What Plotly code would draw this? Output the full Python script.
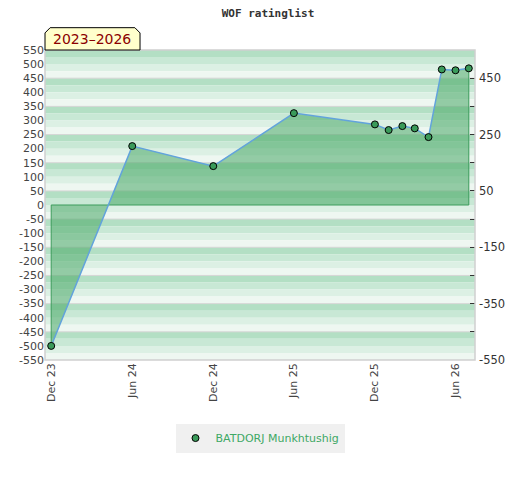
import plotly.graph_objects as go

# rating history (monthly snapshots)
dates = ["2023-12-01", "2024-06-01", "2024-12-01", "2025-06-01", "2025-12-01",
         "2026-01-01", "2026-02-01", "2026-03-01", "2026-04-01", "2026-05-01",
         "2026-06-01", "2026-07-01"]
rating = [-500, 209, 138, 326, 286, 266, 280, 272, 241, 481, 478, 485]
player = "BATDORJ Munkhtushig"
period = "2023\u20132026"

y_min, y_max = -550, 550
left_ticks = list(range(y_min, y_max + 1, 50))
right_ticks = list(range(y_min, y_max + 1, 100))
x_range = ["2023-11-17", "2026-07-15"]

green = "#3a9a5a"
stripe_cols = ["#b3dfc4", "#c8e8d5", "#dcf0e4", "#eef7f1"]

fig = go.Figure()

# fill between rating line and zero
fig.add_trace(go.Scatter(
    x=dates, y=rating, mode="lines", fill="tozeroy",
    fillcolor="rgba(72,168,102,0.55)", line=dict(width=0),
    showlegend=False, hoverinfo="skip",
))
# outline of the filled area (left edge, zero line, right edge)
fig.add_trace(go.Scatter(
    x=[dates[0], dates[0], dates[-1], dates[-1]],
    y=[rating[0], 0, 0, rating[-1]],
    mode="lines", line=dict(color="#3d9c5c", width=1),
    showlegend=False, hoverinfo="skip",
))
fig.add_trace(go.Scatter(
    x=dates, y=rating, mode="lines",
    line=dict(color="#62a3dc", width=1.5),
    showlegend=False, hoverinfo="skip",
))
fig.add_trace(go.Scatter(
    x=dates, y=rating, mode="markers", name=player, yaxis="y2",
    marker=dict(size=7, color=green, line=dict(color="black", width=1)),
))

# striped background: 25-unit bands, grey line every 100
shapes = []
band = 0
v = y_max
while v > y_min:
    shapes.append(dict(type="rect", xref="paper", yref="y", layer="below",
                       x0=0, x1=1, y0=v - 25, y1=v,
                       fillcolor=stripe_cols[band % 4], line=dict(width=0)))
    band += 1
    v -= 25
for g in range(y_min + 100, y_max, 100):
    shapes.append(dict(type="line", xref="paper", yref="y", layer="below",
                       x0=0, x1=1, y0=g, y1=g,
                       line=dict(color="#d6d6d6", width=1)))
shapes.append(dict(type="rect", xref="paper", yref="paper", x0=0, x1=1, y0=0, y1=1,
                   line=dict(color="#d0d0d0", width=1.5)))
# period badge with clipped top corners
shapes.append(dict(type="path", xref="paper", yref="paper",
                   path="M 0,1 L 0,1.055 L 0.012,1.072 L 0.209,1.072 L 0.221,1.055 L 0.221,1 Z",
                   fillcolor="#ffffcc", line=dict(color="black", width=1)))

# page body adds an 8px offset, margins compensate for it
fig.update_layout(
    width=520, height=480,
    margin=dict(l=37, r=53, t=42, b=128),
    paper_bgcolor="white", plot_bgcolor="white",
    font=dict(family="DejaVu Sans", size=11, color="#444"),
    title=dict(text="WOF ratinglist", x=0.5, xanchor="center", y=0.998, yanchor="top",
               font=dict(family="DejaVu Sans Mono", size=11, color="#333", weight="bold")),
    shapes=shapes,
    annotations=[dict(text=period, xref="paper", yref="paper", x=0.11, y=1.036,
                      showarrow=False, xanchor="center", yanchor="middle",
                      font=dict(family="DejaVu Sans", size=14, color="#8b0000"))],
    xaxis=dict(type="date", range=x_range, tick0="2023-12-01", dtick="M6",
               tickformat="%b %y", tickangle=-90, showgrid=False, zeroline=False,
               showline=False, ticks="", automargin=False,
               tickfont=dict(size=11, color="#444")),
    yaxis=dict(range=[y_min, y_max], tickmode="array", tickvals=left_ticks,
               ticktext=[str(t) for t in left_ticks], showgrid=False,
               zeroline=False, showline=False, ticks="", automargin=False,
               tickfont=dict(size=11, color="#444")),
    yaxis2=dict(range=[y_min, y_max], overlaying="y", side="right",
                tickmode="array", tickvals=right_ticks,
                ticktext=[str(t) if (t - y_min) % 200 == 0 else "" for t in right_ticks],
                showgrid=False, zeroline=False, ticklabelstandoff=3,
                ticks="inside", ticklen=5, tickcolor="#333", automargin=False,
                tickfont=dict(size=11.5, color="#333")),
    legend=dict(orientation="h", x=0.5, xanchor="center", y=-0.205, yanchor="top",
                itemwidth=30, bgcolor="#f0f0f0", font=dict(size=11, color="#40a865")),
)

fig.write_html("out.html")
